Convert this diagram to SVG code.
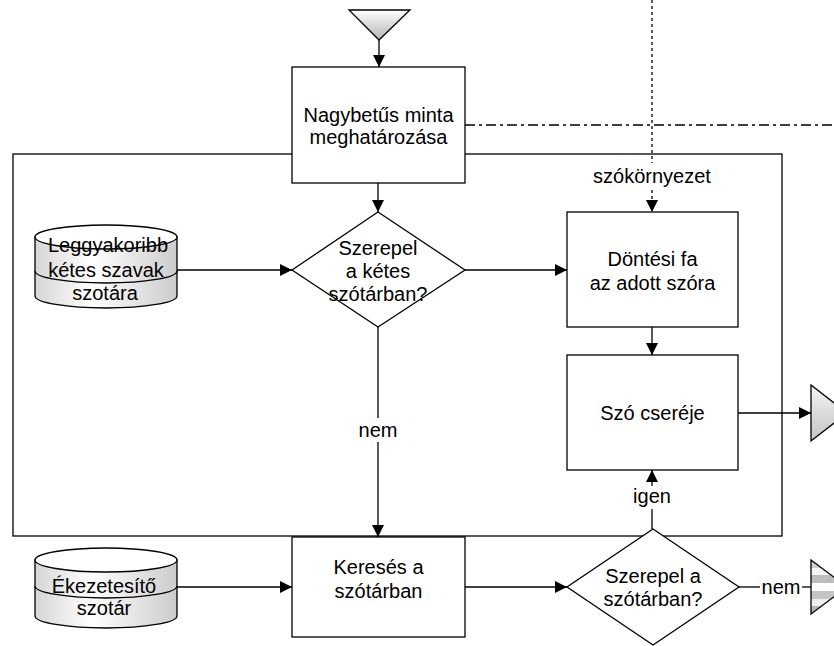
<svg xmlns="http://www.w3.org/2000/svg" width="834" height="646" viewBox="0 0 834 646">
  <style>
    .ln { stroke: #000; stroke-width: 1.3; fill: none; }
    .nd { stroke: #000; stroke-width: 1.3; fill: #fff; }
    .tx { font-family: "Liberation Sans", Arial, sans-serif; font-size: 20px; fill: #000; text-anchor: middle; }
    .lbl { font-family: "Liberation Sans", Arial, sans-serif; font-size: 20px; fill: #000; text-anchor: middle; }
  </style>
  <defs>
    <marker id="arr" markerUnits="userSpaceOnUse" markerWidth="12" markerHeight="12" refX="12" refY="6" orient="auto">
      <path d="M0,0 L12,6 L0,12 z" fill="#000"/>
    </marker>
    <linearGradient id="gDown" x1="0" y1="0" x2="0" y2="1">
      <stop offset="0" stop-color="#ffffff"/>
      <stop offset="1" stop-color="#b4b4b4"/>
    </linearGradient>
    <linearGradient id="gRight" x1="0" y1="0" x2="0" y2="1">
      <stop offset="0" stop-color="#f4f4f4"/>
      <stop offset="1" stop-color="#c4c4c4"/>
    </linearGradient>
    <linearGradient id="gStripe" x1="0" y1="0" x2="0" y2="1">
      <stop offset="0" stop-color="#cfcfcf"/>
      <stop offset="0.14" stop-color="#cfcfcf"/>
      <stop offset="0.14" stop-color="#f6f6f6"/>
      <stop offset="0.28" stop-color="#f6f6f6"/>
      <stop offset="0.28" stop-color="#bdbdbd"/>
      <stop offset="0.42" stop-color="#bdbdbd"/>
      <stop offset="0.42" stop-color="#ffffff"/>
      <stop offset="0.58" stop-color="#ffffff"/>
      <stop offset="0.58" stop-color="#c4c4c4"/>
      <stop offset="0.72" stop-color="#c4c4c4"/>
      <stop offset="0.72" stop-color="#eeeeee"/>
      <stop offset="0.86" stop-color="#eeeeee"/>
      <stop offset="0.86" stop-color="#b8b8b8"/>
      <stop offset="1" stop-color="#b8b8b8"/>
    </linearGradient>
    <linearGradient id="gCyl" x1="0" y1="0" x2="1" y2="0">
      <stop offset="0" stop-color="#d6d6d6"/>
      <stop offset="0.4" stop-color="#ffffff"/>
      <stop offset="1" stop-color="#cccccc"/>
    </linearGradient>
  </defs>

  <!-- outer frame -->
  <rect id="frame" x="13" y="154" width="769" height="382" class="ln"/>

  <!-- context lines -->
  <g id="context">
    <line x1="465" y1="125" x2="834" y2="125" class="ln" stroke-dasharray="10 4 3 4"/>
    <line x1="652" y1="0" x2="652" y2="163" class="ln" stroke-dasharray="3 3"/>
    <line x1="652" y1="190" x2="652" y2="212" class="ln" stroke-dasharray="3 3" marker-end="url(#arr)"/>
    <text class="lbl" x="652" y="183">szókörnyezet</text>
  </g>

  <!-- connectors -->
  <g id="connectors">
    <line x1="379" y1="40" x2="379" y2="67" class="ln" marker-end="url(#arr)"/>
    <line x1="378" y1="183" x2="378" y2="212" class="ln" marker-end="url(#arr)"/>
    <line x1="177" y1="270" x2="292" y2="270" class="ln" marker-end="url(#arr)"/>
    <line x1="465" y1="270" x2="567" y2="270" class="ln" marker-end="url(#arr)"/>
    <line x1="652" y1="327" x2="652" y2="355" class="ln" marker-end="url(#arr)"/>
    <line x1="738" y1="413" x2="811" y2="413" class="ln" marker-end="url(#arr)"/>
    <line x1="378" y1="327" x2="378" y2="418" class="ln"/>
    <line x1="378" y1="442" x2="378" y2="537" class="ln" marker-end="url(#arr)"/>
    <text class="lbl" x="378" y="437">nem</text>
    <line x1="177" y1="587" x2="292" y2="587" class="ln" marker-end="url(#arr)"/>
    <line x1="465" y1="587" x2="567" y2="587" class="ln" marker-end="url(#arr)"/>
    <line x1="652" y1="529" x2="652" y2="509" class="ln"/>
    <line x1="652" y1="486" x2="652" y2="470" class="ln" marker-end="url(#arr)"/>
    <text class="lbl" x="652" y="503">igen</text>
    <line x1="739" y1="587" x2="760" y2="587" class="ln"/>
    <line x1="802" y1="587" x2="811" y2="587" class="ln"/>
    <text class="lbl" x="781" y="594">nem</text>
  </g>

  <!-- start -->
  <g id="start">
    <polygon points="349,10 410,10 379,40" fill="url(#gDown)" stroke="#000" stroke-width="1.3"/>
  </g>

  <g id="pattern">
    <rect x="292" y="67" width="173" height="116" class="nd"/>
    <text class="tx" x="378.5" y="122">Nagybetűs minta</text>
    <text class="tx" x="378.5" y="144">meghatározása</text>
  </g>

  <g id="dubious-check">
    <polygon points="378,212 465,270 378,327 292,270" class="nd"/>
    <text class="tx" x="378" y="255">Szerepel</text>
    <text class="tx" x="378" y="278">a kétes</text>
    <text class="tx" x="378" y="301">szótárban?</text>
  </g>

  <g id="dubious-dict">
    <path d="M35,237 V296 A71,12 0 0 0 177,296 V237 z" fill="url(#gCyl)" stroke="#000" stroke-width="1.3"/>
    <ellipse cx="106" cy="237" rx="71" ry="12" class="nd"/>
    <path d="M35,271 A71,12 0 0 0 177,271" class="ln"/>
    <text class="tx" x="108" y="252">Leggyakoribb</text>
    <text class="tx" x="106" y="277">kétes szavak</text>
    <text class="tx" x="105" y="300">szotára</text>
  </g>

  <g id="decision-tree">
    <rect x="567" y="212" width="171" height="115" class="nd"/>
    <text class="tx" x="652.5" y="266">Döntési fa</text>
    <text class="tx" x="652.5" y="290">az adott szóra</text>
  </g>

  <g id="replace">
    <rect x="567" y="355" width="171" height="115" class="nd"/>
    <text class="tx" x="652.5" y="420">Szó cseréje</text>
  </g>

  <g id="out-replaced">
    <polygon points="811,385 847,413 811,441" fill="url(#gRight)" stroke="#000" stroke-width="1.3"/>
  </g>

  <g id="accent-dict">
    <path d="M35,560 V616 A71,12 0 0 0 177,616 V560 z" fill="url(#gCyl)" stroke="#000" stroke-width="1.3"/>
    <ellipse cx="106" cy="560" rx="71" ry="12" class="nd"/>
    <path d="M35,586 A71,12 0 0 0 177,586" class="ln"/>
    <text class="tx" x="104" y="593">Ékezetesítő</text>
    <text class="tx" x="104" y="615">szotár</text>
  </g>

  <g id="lookup">
    <rect x="292" y="537" width="173" height="100" class="nd"/>
    <text class="tx" x="378.5" y="574">Keresés a</text>
    <text class="tx" x="378.5" y="598">szótárban</text>
  </g>

  <g id="dict-check">
    <polygon points="653,529 739,587 653,645 567,587" class="nd"/>
    <text class="tx" x="653" y="583">Szerepel a</text>
    <text class="tx" x="653" y="606">szótárban?</text>
  </g>

  <g id="out-unchanged">
    <polygon points="811,560 847,587 811,614" fill="url(#gStripe)" stroke="#000" stroke-width="1.3"/>
  </g>
</svg>
